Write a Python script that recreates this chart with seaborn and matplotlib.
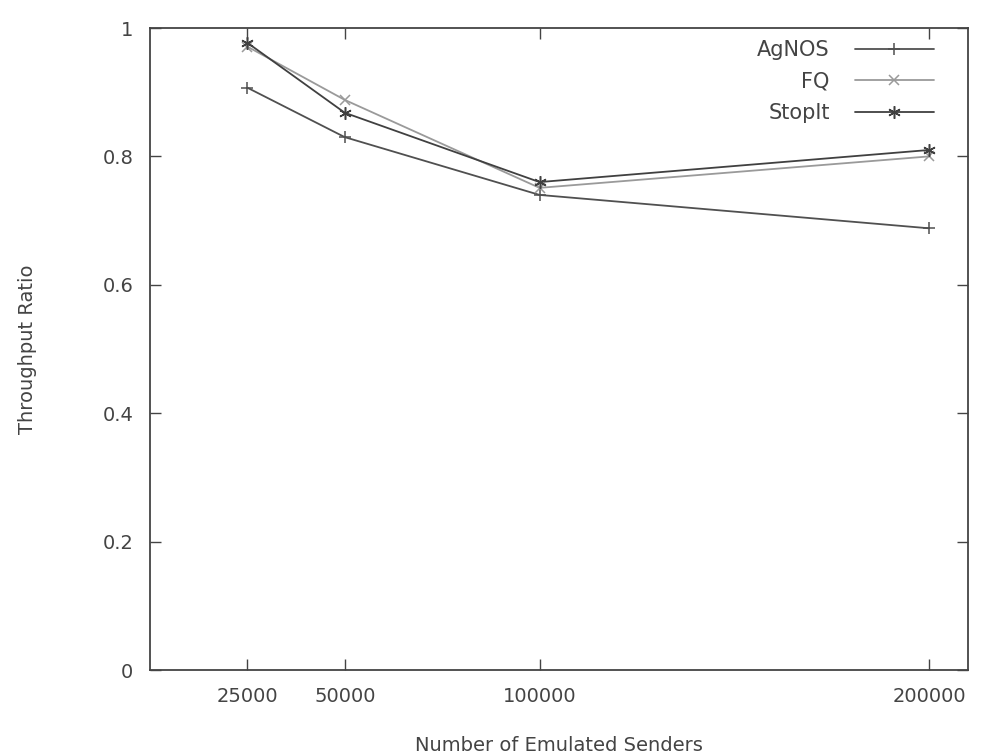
import matplotlib
matplotlib.use("Agg")
import matplotlib.pyplot as plt
import seaborn as sns
import pandas as pd
from matplotlib.ticker import FuncFormatter

senders = [25000, 50000, 100000, 200000]
agnos = [0.907, 0.830, 0.740, 0.688]
fq = [0.971, 0.888, 0.751, 0.800]
stopit = [0.977, 0.868, 0.760, 0.810]
x_ticks = [25000, 50000, 100000, 200000]
y_ticks = [0, 0.2, 0.4, 0.6, 0.8, 1]

sns.set_theme(style="ticks")
plt.rcParams['font.family'] = ['DejaVu Sans']

fig = plt.figure(figsize=(9.82, 7.56), dpi=100)
ax = fig.add_axes([150/982, 1-670/756, (968-150)/982, (670-28)/756])

series = [("AgNOS", agnos, "#505050", "+", 9),
          ("FQ", fq, "#9a9a9a", "x", 7),
          ("StopIt", stopit, "#404040", (6, 2, 0), 9)]
for name, vals, col, mk, ms in series:
    df = pd.DataFrame({"x": senders, "y": vals})
    sns.lineplot(data=df, x="x", y="y", ax=ax, color=col, marker=mk,
                 markersize=ms, markeredgewidth=1.1, markeredgecolor=col,
                 linewidth=1.3, label=name)

ax.set_xlim(0, 210000)
ax.set_ylim(0, 1)
ax.set_xticks(x_ticks)
ax.set_yticks(y_ticks)
ax.yaxis.set_major_formatter(FuncFormatter(lambda v, p: f"{v:g}"))
ax.tick_params(direction="in", length=8, width=1, color="#444444",
               top=True, right=True, labelsize=14, labelcolor="#444444")
ax.tick_params(axis="x", pad=12)
ax.tick_params(axis="y", pad=12)
for s in ax.spines.values():
    s.set_color("#444444")
    s.set_linewidth(1.3)
ax.set_xlabel("Number of Emulated Senders", fontsize=14, color="#444444", labelpad=22)
ax.set_ylabel("Throughput Ratio", fontsize=14, color="#444444", labelpad=47)

leg = ax.legend(loc="upper right", bbox_to_anchor=(1 - 7/818, 1 + 15/642),
                markerfirst=False, frameon=False,
                fontsize=15, handlelength=3.8, handletextpad=1.2,
                borderaxespad=1.0, labelspacing=0.55, borderpad=0.3)
for t in leg.get_texts():
    t.set_color("#444444")

fig.savefig("out.png", dpi=100)
